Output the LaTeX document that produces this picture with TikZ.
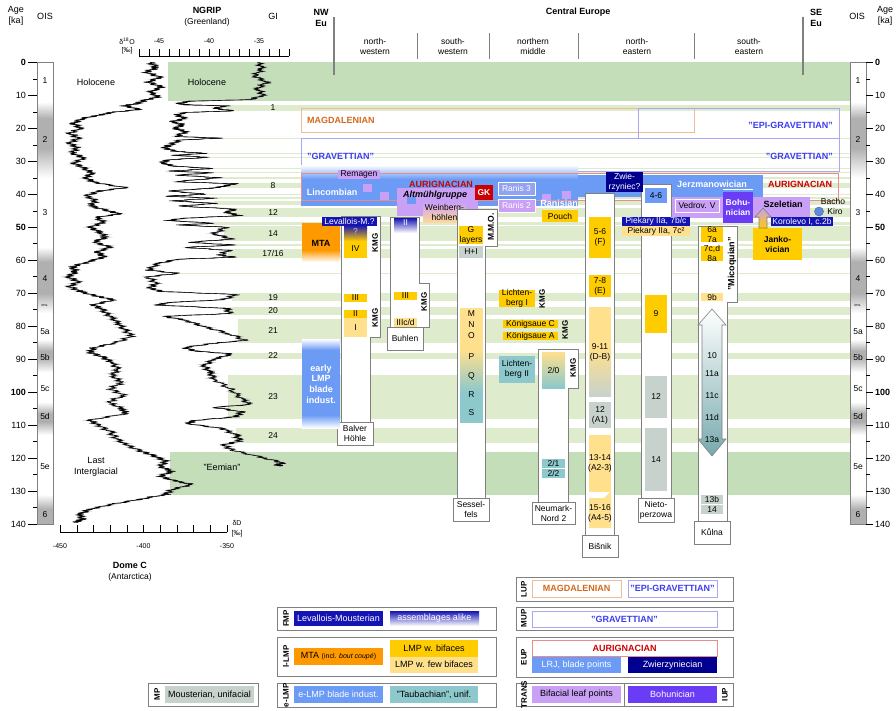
\documentclass[tikz,border=0pt]{standalone}
\usepackage{fontspec}
\setmainfont{Liberation Sans}

\definecolor{gilight}{HTML}{DEEBCD}
\definecolor{gidark}{HTML}{C4DEBA}
\definecolor{lmpyel}{HTML}{FFCC00}
\definecolor{lmplt}{HTML}{FFE08C}
\definecolor{mtaor}{HTML}{FF9900}
\definecolor{levblue}{HTML}{1414B4}
\definecolor{zwnavy}{HTML}{000090}
\definecolor{lrjblue}{HTML}{6B9BF5}
\definecolor{ranisbl}{HTML}{94A2F2}
\definecolor{taubteal}{HTML}{8CC8CC}
\definecolor{mougray}{HTML}{C8D2CC}
\definecolor{leafpur}{HTML}{C9A0F5}
\definecolor{bohpur}{HTML}{6A3CF5}
\definecolor{aurred}{HTML}{CC0000}
\definecolor{magor}{HTML}{D2691E}
\definecolor{gravbl}{HTML}{3C3CF0}
\definecolor{colgray}{HTML}{808080}
\definecolor{oisgray}{HTML}{B0B0B0}
\definecolor{weinor}{HTML}{FFD79A}

\tikzset{
  lbl/.style={font=\fontsize{8.5}{10}\selectfont, align=center, inner sep=0pt},
  leg/.style={font=\fontsize{9}{10}\selectfont, align=center, inner sep=0pt},
  hdr/.style={font=\bfseries\fontsize{9}{11}\selectfont, align=center, inner sep=0pt},
  rot/.style={rotate=90, font=\bfseries\fontsize{8}{9}\selectfont, inner sep=0pt},
  col/.style={draw=colgray, fill=white, line width=0.9pt},
  tagbox/.style={draw=colgray, fill=white, line width=0.9pt},
  legbox/.style={draw=colgray, line width=0.9pt},
  magframe/.style={draw=magor!45, line width=0.6pt},
  gravframe/.style={draw=gravbl!45, line width=0.6pt},
  aurframe/.style={draw=aurred!45, line width=0.6pt},
  agescale/.style={yshift=-62.3pt, y=-3.298pt},
}

% box from corner to corner, with its text in the middle
\newcommand{\bx}[8][]{%
  \path[#7] (#3,#4) rectangle (#5,#6);
  \node[lbl,#1] (#2) at ({(#3+#5)/2},{(#4+#6)/2}) {#8};%
}

% jagged ice core record: start x, data list (x/ka), style, phase
\newcommand{\core}[4]{%
  \draw[#3] (#1,0) \foreach \x/\a [remember=\x as \lx (initially #1),
      remember=\a as \la (initially 0)] in #2 {
    \foreach \k [evaluate=\k as \nx using
          {\lx+(\x-\lx)*\k/12+5*sin(97*\k+53*\a+23*\x+#4)*cos(41*\k+29*\a+#4)},
        evaluate=\k as \na using {\la+(\a-\la)*\k/12}] in {1,...,12}{ -- (\nx,\na) }
  };%
}

\newcommand{\domecdat}{157/1.5, 146/3, 160/4.5, 148/6, 162/7.5, 150/9, 158/10.5, 145/11.5,
  137/12.5, 124/13.2, 140/14.3, 112/15.2, 100/16, 82/17, 74/18.5, 80/20, 70/21.5, 78/23,
  70/24.5, 77/26, 72/27.5, 84/29, 74/30.5, 83/32, 92/33.5, 86/35, 95/36.5, 126/38, 100/39,
  86/40.5, 96/42, 90/43.5, 108/45, 120/46, 96/47, 104/48.5, 90/50, 100/51.5, 106/53, 94/54.5,
  110/56, 98/57.5, 104/59, 88/60.5, 72/62, 76/63.5, 68/65, 78/66.5, 70/68, 80/69.5, 98/71,
  114/72, 94/73.5, 102/75, 110/77, 118/79, 124/81, 132/83, 116/85, 94/86.5, 90/88, 104/89.5,
  112/91, 118/93, 112/95, 122/97, 110/99, 124/101, 108/103, 122/105, 126/106.5, 90/108.5,
  98/110, 110/112, 116/114, 126/116, 142/118, 156/119.5, 166/121, 160/122.5, 172/124,
  160/125.5, 176/127, 192/128, 172/129.5, 166/131, 140/132.5, 112/134, 90/135.5, 80/137,
  82/138.5, 76/139.5}
\newcommand{\ngripdat}{263/2, 254/4, 266/6, 258/8, 263/10, 250/11.3, 190/11.8, 178/12.5,
  188/12.9, 226/13.2, 214/14, 234/14.7, 186/15.2, 176/16, 186/17, 172/18, 184/19, 174/20,
  186/21, 176/22.5, 220/23, 180/23.6, 170/25, 164/26, 176/27, 206/27.6, 174/28.2, 208/28.8,
  168/29.6, 162/30.5, 174/31.5, 212/32.2, 170/33, 214/33.5, 176/34.2, 220/35, 174/36.2,
  234/36.8, 224/37.6, 212/38.2, 168/39, 206/40, 166/40.6, 214/41.2, 172/42, 216/42.8,
  178/43.6, 236/44.5, 226/45.5, 240/46.5, 182/47.3, 168/48, 216/48.8, 178/49.3, 226/50,
  214/52, 232/53.6, 188/54.6, 236/55.4, 184/56.1, 228/57, 220/58.5, 236/59.1, 178/59.7,
  158/61, 148/63, 178/64, 148/65, 156/67, 150/68.5, 162/69.5, 236/70.4, 224/72, 168/72.8,
  158/73.6, 226/74.6, 230/76.2, 164/77, 186/78.2, 202/80, 226/82, 246/84.3, 214/85.2,
  184/86.5, 196/87.6, 232/88.4, 214/90, 204/92, 210/94, 214/96, 230/99, 242/102, 250/103.8,
  214/104.6, 242/106, 236/107.5, 194/108.6, 188/109.6, 222/111, 236/113, 240/114.8,
  224/116, 232/117.6, 262/119.8, 284/121.5, 276/122, 282/122.4}

\begin{document}
\begin{tikzpicture}[x=1pt, y=-1pt]
\useasboundingbox (0,0) rectangle (896,710);

%%% age scale part
\begin{scope}[agescale]
  % Holocene, Eemian and interstadials
  \fill[gidark] (168,0) rectangle (850,11.6);
  \fill[gidark] (170,118.2) rectangle (850,131.2);
  \foreach \a/\b/\xl in {12.9/14.7/226, 22.9/23.3/216, 27.5/27.8/204, 28.6/28.9/206,
      32.0/32.5/210, 33.4/33.7/212, 34.7/35.5/216, 36.6/38.2/228, 39.9/40.2/204,
      40.8/41.5/212, 42.2/43.3/214, 44.3/46.9/228, 48.3/49.3/212, 49.6/54.2/224,
      55.0/55.8/232, 56.5/59.4/228, 63.9/64.1/176, 70.0/72.3/232, 74.2/76.6/228,
      77.8/85.1/238, 88.0/90.0/230, 94.9/108.2/228, 111.0/115.5/236}{
    \fill[gilight] (\xl,\a) rectangle (850,\b);
  }

  % ice cores
  \core{150}{\domecdat}{gray!45, line width=0.9pt}{0}
  \core{150}{\domecdat}{black, line width=0.4pt}{30}
  \core{150}{\domecdat}{black, line width=0.35pt}{75}
  \core{258}{\ngripdat}{gray!45, line width=0.9pt}{0}
  \core{258}{\ngripdat}{black, line width=0.4pt}{30}
  \core{258}{\ngripdat}{black, line width=0.35pt}{75}

  % GI numbers
  \foreach \n/\a in {1/13.8, 8/37.4, 12/45.6, 14/51.9, 19/71.2, 20/75.4, 21/81.4,
      22/89, 23/101.3, 24/113.3}{
    \node[lbl] (gi\n) at (273,\a) {\n};
  }
  \node[lbl] (gi17) at (273,57.9) {17/16};

  % OIS bars
  \foreach \xo in {37,850}{
    \fill[white] (\xo,0) rectangle (\xo+16,140);
    \foreach \a/\b/\c/\d in {12/17/26/35, 56/60.5/70/76, 84/87.5/89.5/94, 103/106.5/109/113}{
      \shade[top color=white, bottom color=oisgray] (\xo,\a) rectangle (\xo+16,\b);
      \fill[oisgray] (\xo,\b) rectangle (\xo+16,\c);
      \shade[top color=oisgray, bottom color=white] (\xo,\c) rectangle (\xo+16,\d);
    }
    \shade[top color=white, bottom color=oisgray] (\xo,131) rectangle (\xo+16,135.5);
    \fill[oisgray] (\xo,135.5) rectangle (\xo+16,140);
    \draw[colgray, line width=0.8pt] (\xo,0) rectangle (\xo+16,140);
    \foreach \s/\a in {1/5.5, 2/23.5, 3/45.5, 4/65.5, 5a/81.8, 5b/89.5, 5c/98.8, 5d/107.3,
        5e/122.7, 6/137.2}{
      \node[lbl] (ois\s\xo) at (\xo+8,\a) {\s};
    }
    \node[font=\fontsize{3.5}{4}\selectfont, inner sep=0pt] (trns\xo) at (\xo+8,73.6) {trns.};
  }

  % age axes
  \foreach \t in {0,10,...,140}{
    \draw (28,\t) -- (37,\t);
    \draw (866,\t) -- (873,\t);
  }
  \foreach \t in {5,15,...,135}{
    \draw (33,\t) -- (37,\t);
    \draw (866,\t) -- (870,\t);
  }
  \foreach \t in {10,20,30,40,60,70,80,90,110,120,130,140}{
    \node[lbl, font=\fontsize{9}{10}\selectfont, anchor=east] (la\t) at (26,\t) {\t};
    \node[lbl, font=\fontsize{9}{10}\selectfont, anchor=west] (ra\t) at (875,\t) {\t};
  }
  \foreach \t in {0,50,100}{
    \node[lbl, font=\bfseries\fontsize{9}{10}\selectfont, anchor=east] (la\t) at (26,\t) {\t};
    \node[lbl, font=\bfseries\fontsize{9}{10}\selectfont, anchor=west] (ra\t) at (875,\t) {\t};
  }
\end{scope}

%%% heads
\node[lbl, font=\fontsize{9}{11}\selectfont] (agel) at (16,16) {Age\\{}[ka]};
\node[lbl, font=\fontsize{9}{11}\selectfont] (oisl) at (45,16) {OIS};
\node[hdr] (ngriph) at (207,10) {NGRIP};
\node[lbl] (greenl) at (207,22) {(Greenland)};
\node[lbl, font=\fontsize{9}{11}\selectfont] (gih) at (273,16) {GI};
\node[hdr] (nweu) at (321,17.5) {NW\\Eu};
\node[hdr] (ceu) at (578,12) {Central Europe};
\node[hdr] (seeu) at (816,17.5) {SE\\Eu};
\node[lbl, font=\fontsize{9}{11}\selectfont] (oisr) at (857,16) {OIS};
\node[lbl, font=\fontsize{9}{11}\selectfont] (ager) at (885,16) {Age\\{}[ka]};
\draw[colgray, line width=1.1pt] (334,17) -- (334,75);
\draw[colgray, line width=1.1pt] (803,17) -- (803,75);
\foreach \xs in {417,489,578,694}{
  \draw[colgray, line width=0.9pt] (\xs,33) -- (\xs,59);
}
\node[lbl] (regnw) at (375,46.5) {north-\\western};
\node[lbl] (regsw) at (453,46.5) {south-\\western};
\node[lbl] (regnm) at (533,46.5) {northern\\middle};
\node[lbl] (regne) at (637,46.5) {north-\\eastern};
\node[lbl] (regse) at (749,46.5) {south-\\eastern};

% NGRIP axis
\draw (139,56) -- (289,56);
\foreach \i in {0,...,15}{
  \draw ({139+10*\i},56) -- ({139+10*\i},49);
}
\foreach \v/\xv in {-45/159, -40/209, -35/259}{
  \node[lbl, font=\fontsize{7}{8}\selectfont] (o\xv) at (\xv,41) {\v};
}
\node[lbl, font=\fontsize{7}{8}\selectfont] (d18o) at (127,41) {δ\textsuperscript{18}O};
\node[lbl, font=\fontsize{7}{8}\selectfont] (permo) at (127,51) {{[‰]}};

% Dome C axis
\draw (60,532) -- (227,532);
\foreach \i in {0,...,10}{
  \draw ({60+16.7*\i},532) -- ({60+16.7*\i},525);
}
\foreach \v/\xv in {-450/60, -400/143.5, -350/227}{
  \node[lbl, font=\fontsize{7}{8}\selectfont] (d\xv) at (\xv,546) {\v};
}
\node[lbl, font=\fontsize{7}{8}\selectfont] (dd) at (237,523) {δD};
\node[lbl, font=\fontsize{7}{8}\selectfont] (permd) at (237,534) {{[‰]}};
\node[hdr] (domeh) at (130,565) {Dome C};
\node[lbl] (antl) at (130,577) {(Antarctica)};

% climate labels
\node[lbl, font=\fontsize{9}{10}\selectfont] (holol) at (96,82) {Holocene};
\node[lbl, font=\fontsize{9}{10}\selectfont] (holor) at (207,82) {Holocene};
\node[lbl, font=\fontsize{9}{11}\selectfont] (lig) at (96,466.5) {Last\\Interglacial};
\node[lbl, font=\fontsize{9}{10}\selectfont] (eem) at (222,467) {"Eemian"};

%%% upper palaeolithic frames
\draw[magframe] (301,108) rectangle (694,132);
\node[hdr, anchor=west, text=magor] (magd) at (307,120) {MAGDALENIAN};
\draw[gravframe] (638,108) rectangle (839,138);
\draw[gravframe] (301,138) rectangle (839,171);
\node[hdr, anchor=east, text=gravbl] (epig) at (833,125) {"EPI-GRAVETTIAN"};
\node[hdr, anchor=west, text=gravbl] (gravl) at (307,156) {"GRAVETTIAN"};
\node[hdr, anchor=east, text=gravbl] (gravr) at (833,156) {"GRAVETTIAN"};

% LRJ band
\shade[top color=white, bottom color=lrjblue] (301,165) rectangle (578,179);
\fill[lrjblue] (301,179) rectangle (578,206);
\fill[lrjblue] (578,175) rectangle (763,197);
\draw[aurframe] (301,173) rectangle (838,200);

% leaf points
\bx{remagen}{338}{170}{380}{179}{fill=leafpur}{Remagen}
\foreach \xq/\yq in {363/184, 380/192, 542/194, 562/191}{
  \fill[leafpur] (\xq,\yq) rectangle (\xq+9,\yq+8);
}
\node[hdr, text=white] (lincomb) at (332,192) {Lincombian};
\node[hdr, text=white] (ranisian) at (559,203) {Ranisian};
\node[hdr, text=white] (jerzm) at (712,184) {Jerzmanowician};
\node[hdr, text=aurred] (aurl) at (441,184) {AURIGNACIAN};
\node[hdr, text=aurred] (aurr) at (800,184) {AURIGNACIAN};
\fill[leafpur] (397,188) rectangle (478,216);
\fill[lrjblue] (407,197) rectangle (416,204);
\node[hdr, font=\bfseries\itshape\fontsize{9}{10}\selectfont] (altm) at (435,195) {Altmühlgruppe};
\bx[font=\bfseries\fontsize{8.5}{10}\selectfont, text=white]{gk}{475}{185}{493}{200}{fill=aurred}{GK}
\shade[top color=leafpur, bottom color=weinor] (423,202) rectangle (466,222);
\node[lbl] (weinb) at (444.5,212) {Weinberg-\\höhlen};
\bx{e3}{468}{209}{483}{217}{fill=lmplt}{E3}
\bx[text=white]{ranis3}{498}{182}{535}{195}{fill=ranisbl, draw=white, line width=0.8pt}{Ranis 3}
\bx[text=white]{ranis2}{498}{199}{535}{212}{fill=leafpur, draw=white, line width=0.8pt}{Ranis 2}
\bx{pouch}{542}{210}{578}{222}{fill=lmpyel}{Pouch}
\fill[leafpur] (672,197) rectangle (810,218);
\bx{vedrov}{675}{199}{719}{212}{draw=white, line width=0.6pt}{Vedrov. V}
\node[hdr] (szel) at (783,204) {Szeletian};
\bx[font=\bfseries\fontsize{8.5}{10}\selectfont, text=white]{bohu}{723}{192}{753}{223}{fill=bohpur}{Bohu-\\nician}
\draw[white, line width=0.8pt] (723,189.5) -- (753,189.5);

%%% site columns
\draw[col] (341,216) -- (380,216) -- (380,337) -- (370,337) -- (370,422) -- (341,422) -- cycle;
\draw[col] (390,217) -- (419,217) -- (419,283) -- (429,283) -- (429,327) -- (390,327) -- cycle;
\draw[col] (457,209) -- (497,209) -- (497,246) -- (485,246) -- (485,498) -- (457,498) -- cycle;
\draw[col] (538,349) -- (578,349) -- (578,388) -- (568,388) -- (568,502) -- (538,502) -- cycle;
\draw[col] (585,193) rectangle (614,535);
\draw[col] (641,184) rectangle (671,498);
\draw[col] (698,226) -- (737,226) -- (737,302) -- (727,302) -- (727,521) -- (698,521) -- cycle;

\bx{balver}{337}{422}{373}{445}{tagbox}{Balver\\Höhle}
\bx{buhlen}{387}{327}{423}{350}{tagbox}{Buhlen}
\bx{sessel}{453}{498}{489}{521}{tagbox}{Sessel-\\fels}
\bx{neumark}{532}{502}{575}{524}{tagbox}{Neumark-\\Nord 2}
\bx{bisnik}{582}{535}{618}{557}{tagbox}{Bišnik}
\bx{nieto}{638}{498}{674}{522}{tagbox}{Nieto-\\perzowa}
\bx{kulna}{694}{521}{730}{544}{tagbox}{Kůlna}

% NW Europe
\fill[mtaor] (302,223) rectangle (340,250);
\shade[top color=mtaor, bottom color=white] (302,250) rectangle (340,262);
\node[hdr] (mta) at (321,243) {MTA};
\shade[top color=white, bottom color=lrjblue] (302,339) rectangle (340,350);
\fill[lrjblue] (302,350) rectangle (340,415);
\shade[top color=lrjblue, bottom color=white] (302,415) rectangle (340,428);
\node[hdr, font=\bfseries\fontsize{9}{10.7}\selectfont, text=white] (elmp) at (321,384) {early\\LMP\\blade\\indust.};

% Balver Hoehle
\shade[top color=levblue, bottom color=lmpyel] (344,225) rectangle (367,241);
\fill[lmpyel] (344,241) rectangle (367,258);
\node[lbl, text=white!75!levblue] (bq) at (355.5,231.5) {?};
\node[lbl] (b4) at (355.5,248.5) {IV};
\bx[text=white]{levm}{322}{217}{377}{225.5}{fill=levblue}{Levallois-M.?}
\bx{b3}{344}{294}{367}{302}{fill=lmpyel}{III}
\bx{b2}{344}{310}{367}{318}{fill=lmpyel}{II}
\bx{b1}{344}{318}{367}{337}{fill=lmplt}{I}
\node[rot] (kmgb1) at (375,243) {KMG};
\node[rot] (kmgb2) at (375,318) {KMG};

% Buhlen
\shade[top color=levblue, bottom color=white] (394,218) rectangle (417,233);
\node[lbl, text=white] (bu2) at (405.5,222.5) {II};
\bx{bu3}{394}{292}{417}{300}{fill=lmpyel}{III}
\bx{bu3cd}{394}{318}{417}{327}{fill=lmplt}{IIIc/d}
\node[rot] (kmgbu) at (424,302) {KMG};

% Sesselfels
\bx{sg}{459}{226}{483}{244}{fill=lmpyel}{G\\layers}
\bx{shi}{459}{246}{483}{258}{fill=mougray}{H+I}
\fill[lmplt] (460,308) rectangle (483,350);
\shade[top color=lmplt, bottom color=taubteal] (460,350) rectangle (483,392);
\fill[taubteal] (460,392) rectangle (483,423);
\foreach \l/\yl in {M/314, N/325, O/336, P/357, Q/376, R/395, S/413}{
  \node[lbl] (s\l) at (471.5,\yl) {\l};
}
\node[rot, font=\bfseries\fontsize{8.5}{9}\selectfont] (mmo) at (491,227) {M.M.O.};

% northern middle
\bx{licht1}{499}{290}{535}{307}{fill=lmpyel}{Lichten-\\berg I}
\node[rot] (kmgl) at (542,299) {KMG};
\bx{koenc}{503}{320}{558}{328}{fill=lmpyel}{Königsaue C}
\bx{koena}{503}{332}{558}{340}{fill=lmpyel}{Königsaue A}
\node[rot] (kmgk) at (565,330) {KMG};
\bx{licht2}{499}{356}{535}{383}{fill=taubteal}{Lichten-\\berg II}
\shade[top color=lmplt, bottom color=taubteal] (542,352) rectangle (565,388);
\node[lbl] (n20) at (553.5,370) {2/0};
\node[rot] (kmgn) at (573,368) {KMG};
\bx{n21}{542}{459}{565}{467.5}{fill=taubteal}{2/1}
\bx{n22}{542}{469}{565}{477.5}{fill=taubteal}{2/2}

% Bisnik
\bx[text=white]{zwie}{606}{172}{643}{192}{fill=zwnavy}{Zwie-\\rzyniec?}
\bx{bi56}{589}{217}{611}{258}{fill=lmpyel}{5-6\\(F)}
\bx{bi78}{589}{275}{611}{297}{fill=lmpyel}{7-8\\(E)}
\fill[lmplt] (589,307) rectangle (611,348);
\shade[top color=lmplt, bottom color=mougray] (589,348) rectangle (611,396);
\node[lbl] (bi911) at (600,352) {9-11\\(D-B)};
\bx{bi12}{589}{402}{611}{428}{fill=mougray}{12\\(A1)}
\bx{bi1314}{589}{435}{611}{492}{fill=lmplt}{13-14\\(A2-3)}
\fill[lmplt] (589,498) -- (604,498) -- (611,491) -- (611,528) -- (589,528) -- cycle;
\node[lbl] (bi1516) at (600,513) {15-16\\(A4-5)};

% Nietoperzowa
\bx{ni46}{645}{188}{667}{203}{fill=lrjblue}{4-6}
\bx[text=white]{piek1}{622}{217}{690}{226}{fill=levblue}{Piekary IIa, 7b/c}
\bx{piek2}{622}{226}{690}{236}{fill=lmplt}{Piekary IIa, 7c²}
\bx{ni9}{645}{295}{667}{333}{fill=lmpyel}{9}
\bx{ni12}{645}{376}{667}{418}{fill=mougray}{12}
\bx{ni14}{645}{428}{667}{491}{fill=mougray}{14}

% Kulna
\bx{k67}{701}{227}{723}{242}{fill=lmpyel}{6a\\7a}
\bx{k78}{701}{246}{723}{261}{fill=lmpyel}{7c,d\\8a}
\bx{k9b}{701}{293}{723}{301}{fill=lmplt}{9b}
\node[rot, font=\bfseries\fontsize{9}{10}\selectfont] (mico) at (732,264) {"Micoquian"};
\shade[top color=white, bottom color=taubteal!85!black, draw=colgray, line width=0.6pt]
  (712,309) -- (726,325) -- (722,325) -- (722,439) -- (726,439) -- (712,456)
  -- (698,439) -- (702,439) -- (702,325) -- (698,325) -- cycle;
\foreach \l/\yl in {10/356, 11a/374, 11c/396, 11d/417, 13a/440}{
  \node[lbl] (k\l) at (712,\yl) {\l};
}
\bx{k13b}{701}{495}{723}{503.5}{fill=mougray}{13b}
\bx{k14}{701}{505}{723}{514}{fill=mougray}{14}

% south-east
\bx[font=\bfseries\fontsize{8.5}{10}\selectfont]{janko}{753}{228}{802}{260}{fill=lmpyel}{Janko-\\vician}
\shade[top color=leafpur, bottom color=lmpyel, draw=colgray, line width=0.6pt]
  (759,228) -- (759,217) -- (755,217) -- (763,208) -- (771,217) -- (767,217) -- (767,228) -- cycle;
\bx[text=white]{korol}{771}{217}{833}{226}{fill=levblue}{Korolevo I, c.2b}
\node[lbl] (bacho) at (833,201) {Bacho};
\node[lbl] (kiro) at (835,211.5) {Kiro};
\draw[fill=lrjblue!90!black, draw=lrjblue!60!black, line width=0.4pt] (819,211.5) circle (4.5);

%%% legend
\draw[legbox] (148,683) rectangle (258,706);
\node[rot] (lmp) at (157,694.5) {MP};
\bx[leg]{lmou}{165}{686}{254}{703}{fill=mougray}{Mousterian, unifacial}

\draw[legbox] (277,607) rectangle (496,630);
\node[rot] (lfmp) at (286,618.5) {FMP};
\bx[leg, text=white]{llev}{294}{611}{383}{626}{fill=levblue}{Levallois-Mousterian}
\shade[top color=levblue, bottom color=white] (390,611) rectangle (479,626);
\node[leg, text=white] (lalike) at (434.5,618.5) {assemblages alike};

\draw[legbox] (277,637) rectangle (496,676);
\node[rot] (llmp) at (286,656.5) {l-LMP};
\bx[leg]{lmta}{294}{648}{383}{665}{fill=mtaor}{MTA {\fontsize{7}{8}\selectfont(incl. \textit{bout coupé})}}
\bx[leg]{lbif}{390}{640}{478}{656.5}{fill=lmpyel}{LMP w. bifaces}
\bx[leg]{lfew}{390}{656.5}{478}{673}{fill=lmplt}{LMP w. few bifaces}

\draw[legbox] (277,683) rectangle (496,707);
\node[rot] (lelmp) at (286,695) {e-LMP};
\bx[leg, text=white]{lblade}{294}{686}{383}{703}{fill=lrjblue}{e-LMP blade indust.}
\bx[leg]{ltaub}{390}{686}{478}{703}{fill=taubteal}{"Taubachian", unif.}

\draw[legbox] (516,577) rectangle (733,601);
\node[rot] (llup) at (524,589) {LUP};
\bx[hdr, text=magor]{lmag}{532}{580}{621}{597}{magframe}{MAGDALENIAN}
\bx[hdr, text=gravbl]{lepi}{628}{580}{717}{597}{gravframe}{"EPI-GRAVETTIAN"}

\draw[legbox] (516,607) rectangle (733,630);
\node[rot] (lmup) at (524,618.5) {MUP};
\bx[hdr, text=gravbl]{lgrav}{532}{611}{717}{627}{gravframe}{"GRAVETTIAN"}

\draw[legbox] (516,637) rectangle (733,677);
\node[rot] (leup) at (524,657) {EUP};
\bx[hdr, text=aurred]{laur}{532}{640}{717}{656}{aurframe}{AURIGNACIAN}
\bx[leg, text=white]{llrj}{532}{657}{621}{673}{fill=lrjblue}{LRJ, blade points}
\bx[leg, text=white]{lzw}{628}{657}{717}{673}{fill=zwnavy}{Zwierzyniecian}

\draw[legbox] (516,683) rectangle (733,706);
\draw[colgray, line width=0.9pt] (624,683) -- (624,706);
\node[rot] (ltrans) at (524,694.5) {TRANS};
\node[rot] (liup) at (725,694.5) {IUP};
\bx[leg]{lleaf}{532}{686}{621}{703}{fill=leafpur}{Bifacial leaf points}
\bx[leg, text=white]{lbohu}{628}{686}{717}{703}{fill=bohpur}{Bohunician}
\end{tikzpicture}
\end{document}
